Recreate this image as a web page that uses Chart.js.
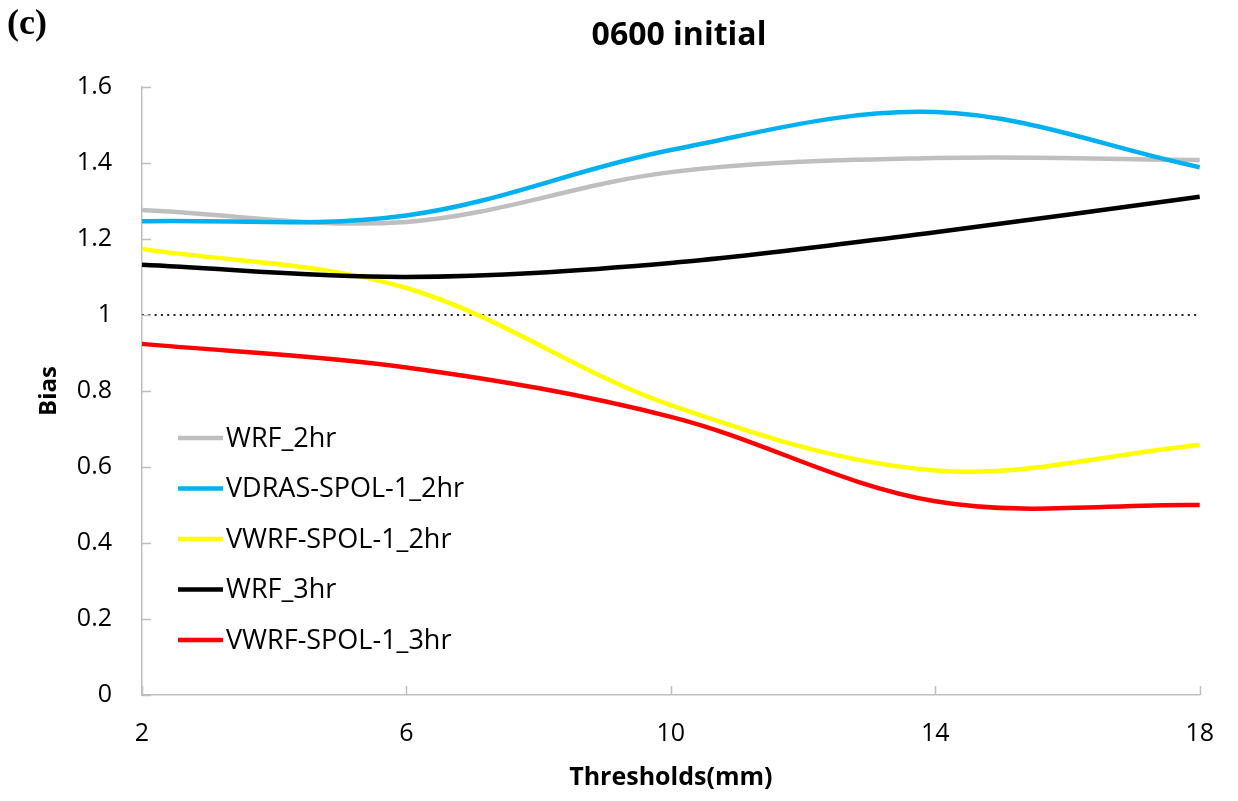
<!DOCTYPE html>
<html>
<head>
<meta charset="utf-8">
<script src="https://cdn.jsdelivr.net/npm/chart.js@4.4.1/dist/chart.umd.min.js"></script>
<style>
  html, body { margin: 0; padding: 0; background: #ffffff; }
  #wrap { position: relative; width: 1238px; height: 801px; }
</style>
</head>
<body>
<div id="wrap"><canvas id="c"></canvas></div>
<script>
// Precipitation thresholds (mm)
const thresholds = ['2', '6', '10', '14', '18'];

// Bias per threshold for each experiment
const wrf2hr        = [1.276, 1.245, 1.376, 1.413, 1.408];
const vdrasSpol2hr  = [1.247, 1.262, 1.434, 1.534, 1.389];
const vwrfSpol2hr   = [1.174, 1.071, 0.763, 0.591, 0.658];
const wrf3hr        = [1.132, 1.100, 1.137, 1.218, 1.311];
const vwrfSpol3hr   = [0.924, 0.862, 0.732, 0.510, 0.500];

// Perfect-bias reference
const unbiased = [1, 1, 1, 1, 1];

const yTicks = [0, 0.2, 0.4, 0.6, 0.8, 1, 1.2, 1.4, 1.6];

const FONT = "'Open Sans', 'DejaVu Sans', sans-serif";

const series = [
  { label: 'WRF_2hr',            data: wrf2hr,       color: '#BFBFBF' },
  { label: 'VDRAS-SPOL-1_2hr',   data: vdrasSpol2hr, color: '#00B0F0' },
  { label: 'VWRF-SPOL-1_2hr',    data: vwrfSpol2hr,  color: '#FFFF00' },
  { label: 'WRF_3hr',            data: wrf3hr,       color: '#000000' },
  { label: 'VWRF-SPOL-1_3hr',    data: vwrfSpol3hr,  color: '#FF0000' }
];

const datasets = series.map((s, i) => ({
  label: s.label,
  data: s.data,
  borderColor: s.color,
  backgroundColor: s.color,
  borderWidth: 4.5,
  pointRadius: 0,
  tension: 0.35,
  fill: false,
  order: series.length - i
}));

datasets.push({
  label: 'unbiased',
  data: unbiased,
  borderColor: '#222222',
  borderWidth: 2,
  borderDash: [2, 4.3],
  pointRadius: 0,
  tension: 0,
  fill: false,
  order: 99,
  hideInLegend: true
});

// Panel tag, centred title, inward tick marks and the in-plot legend
const decorations = {
  id: 'decorations',
  afterDraw(chart) {
    const ctx = chart.ctx;
    const area = chart.chartArea;
    const xs = chart.scales.x, ys = chart.scales.y;
    ctx.save();

    // inward tick marks
    ctx.strokeStyle = '#BFBFBF';
    ctx.lineWidth = 1.5;
    ys.ticks.forEach(t => {
      const y = Math.round(ys.getPixelForValue(t.value)) + 0.5;
      ctx.beginPath();
      ctx.moveTo(area.left, y);
      ctx.lineTo(area.left + 9, y);
      ctx.stroke();
    });
    xs.ticks.forEach((t, i) => {
      const x = Math.round(xs.getPixelForTick(i)) + 0.5;
      ctx.beginPath();
      ctx.moveTo(x, area.bottom);
      ctx.lineTo(x, area.bottom - 9);
      ctx.stroke();
    });

    // panel tag
    ctx.fillStyle = '#000';
    ctx.font = "bold 36px 'Liberation Serif', 'DejaVu Serif', serif";
    ctx.textAlign = 'left';
    ctx.textBaseline = 'alphabetic';
    ctx.fillText('(c)', 7, 34);

    // title
    ctx.font = 'bold 32px ' + FONT;
    ctx.textAlign = 'center';
    ctx.textBaseline = 'middle';
    ctx.fillText('0600 initial', 679, 36);

    // legend
    const rows = chart.data.datasets.filter(d => !d.hideInLegend);
    const y0 = 438, dy = 50.5;
    ctx.font = '27px ' + FONT;
    ctx.textAlign = 'left';
    ctx.textBaseline = 'middle';
    rows.forEach((d, i) => {
      const y = y0 + i * dy;
      ctx.strokeStyle = d.borderColor;
      ctx.lineWidth = 4.5;
      ctx.beginPath();
      ctx.moveTo(178, y);
      ctx.lineTo(223, y);
      ctx.stroke();
      ctx.fillStyle = '#000';
      ctx.fillText(d.label, 226, y + 1);
    });
    ctx.restore();
  }
};

new Chart(document.getElementById('c'), {
  type: 'line',
  data: { labels: thresholds, datasets },
  plugins: [decorations],
  options: {
    responsive: true,
    maintainAspectRatio: false,
    animation: false,
    layout: { padding: { top: 87, right: 32, left: 0, bottom: 0 } },
    plugins: {
      legend: { display: false },
      title: { display: false },
      tooltip: { enabled: false }
    },
    scales: {
      x: {
        type: 'category',
        offset: false,
        afterFit(scale) { scale.height = 106; },
        grid: { display: true, drawOnChartArea: false, drawTicks: false },
        border: { display: true, color: '#BFBFBF', width: 1.5 },
        ticks: {
          color: '#000',
          font: { family: FONT, size: 25 },
          padding: 24,
          maxRotation: 0,
          autoSkip: false
        },
        title: {
          display: true,
          text: 'Thresholds(mm)',
          color: '#000',
          font: { family: FONT, size: 25, weight: 'bold' },
          padding: { top: 0, bottom: 8 }
        }
      },
      y: {
        min: 0,
        max: 1.6,
        afterFit(scale) { scale.width = 142; },
        afterBuildTicks(scale) { scale.ticks = yTicks.map(v => ({ value: v })); },
        grid: { display: true, drawOnChartArea: false, drawTicks: false },
        border: { display: true, color: '#BFBFBF', width: 1.5 },
        ticks: {
          color: '#000',
          font: { family: FONT, size: 25 },
          padding: 30,
          callback: v => String(Math.round(v * 10) / 10)
        },
        title: {
          display: true,
          text: 'Bias',
          color: '#000',
          font: { family: FONT, size: 24, weight: 'bold' },
          padding: { top: 35, bottom: 0 }
        }
      }
    }
  }
});
</script>
</body>
</html>
